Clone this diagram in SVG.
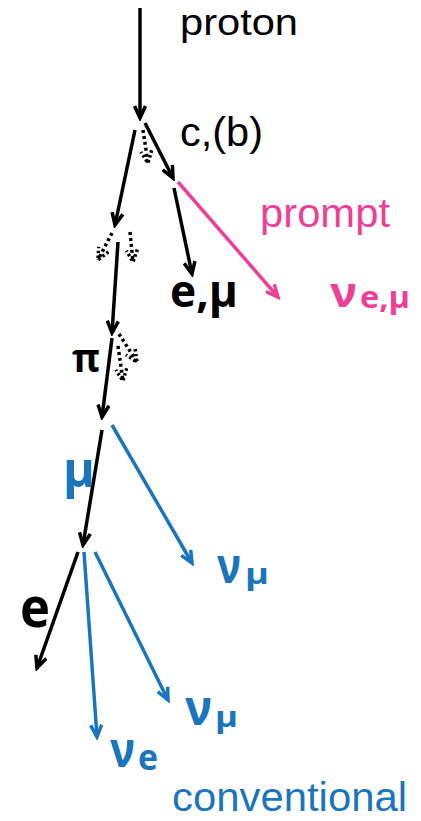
<svg xmlns="http://www.w3.org/2000/svg" width="421" height="821" viewBox="0 0 421 821">
<style>
.bg{fill:#fff}
.ln{fill:none;stroke-width:3.5;stroke-linecap:butt}
.k{stroke:#000}
.p{stroke:#ee3f97}
.b{stroke:#1b75bc}
.dot{stroke-dasharray:3 3}
.t{font-family:"Liberation Sans",Arial,sans-serif}
.g{font-family:"Open Sans","Noto Sans",sans-serif;font-weight:bold}
.tk{fill:#000}
.tp{fill:#ee3f97}
.tb{fill:#1b75bc}
</style>
<defs>
<marker id="ak" markerUnits="userSpaceOnUse" markerWidth="16" markerHeight="14" viewBox="0 0 16 14" refX="13" refY="7" orient="auto"><path d="M1,1.5 L13,7 L1,12.5" fill="none" stroke="#000" stroke-width="3.5"/></marker>
<marker id="ap" markerUnits="userSpaceOnUse" markerWidth="16" markerHeight="14" viewBox="0 0 16 14" refX="13" refY="7" orient="auto"><path d="M1,1.5 L13,7 L1,12.5" fill="none" stroke="#ee3f97" stroke-width="3.5"/></marker>
<marker id="ab" markerUnits="userSpaceOnUse" markerWidth="16" markerHeight="14" viewBox="0 0 16 14" refX="13" refY="7" orient="auto"><path d="M1,1.5 L13,7 L1,12.5" fill="none" stroke="#1b75bc" stroke-width="3.5"/></marker>
<marker id="ad" markerUnits="userSpaceOnUse" markerWidth="16" markerHeight="14" viewBox="0 0 16 14" refX="13" refY="7" orient="auto"><path d="M1,1.5 L13,7 L1,12.5" fill="none" stroke="#000" stroke-width="3.5" stroke-dasharray="2.5 2.5"/></marker>
</defs>
<rect class="bg" x="0" y="0" width="421" height="821"/>
<g id="connectors">
<line class="ln k" x1="140" y1="8" x2="140" y2="118" marker-end="url(#ak)"/>
<line class="ln k" x1="135" y1="130" x2="115" y2="225" marker-end="url(#ak)"/>
<line class="ln k" x1="145" y1="123" x2="173" y2="178" marker-end="url(#ak)"/>
<line class="ln k dot" x1="143" y1="130" x2="148" y2="163" marker-end="url(#ad)"/>
<line class="ln k" x1="174" y1="188" x2="192" y2="274" marker-end="url(#ak)"/>
<line class="ln p" x1="178" y1="182" x2="278" y2="297" marker-end="url(#ap)"/>
<line class="ln k dot" x1="112" y1="233" x2="98" y2="260" marker-end="url(#ad)"/>
<line class="ln k dot" x1="130" y1="232" x2="133" y2="262" marker-end="url(#ad)"/>
<line class="ln k" x1="118" y1="242" x2="112" y2="333" marker-end="url(#ak)"/>
<line class="ln k dot" x1="119" y1="334" x2="137" y2="362" marker-end="url(#ad)"/>
<line class="ln k dot" x1="118" y1="346" x2="123" y2="381" marker-end="url(#ad)"/>
<line class="ln k" x1="112" y1="338" x2="102" y2="417" marker-end="url(#ak)"/>
<line class="ln k" x1="102" y1="430" x2="83" y2="545" marker-end="url(#ak)"/>
<line class="ln b" x1="112" y1="425" x2="192" y2="563" marker-end="url(#ab)"/>
<line class="ln k" x1="78" y1="552" x2="37" y2="668" marker-end="url(#ak)"/>
<line class="ln b" x1="84" y1="552" x2="97" y2="737" marker-end="url(#ab)"/>
<line class="ln b" x1="95" y1="552" x2="168" y2="700" marker-end="url(#ab)"/>
</g>
<g id="proton"><text class="t tk" x="180" y="35" font-size="37" textLength="118" lengthAdjust="spacingAndGlyphs">proton</text></g>
<g id="charm"><text class="t tk" x="180" y="146" font-size="41" textLength="83" lengthAdjust="spacingAndGlyphs">c,(b)</text></g>
<g id="prompt"><text class="t tp" x="260" y="227" font-size="41" textLength="130" lengthAdjust="spacingAndGlyphs">prompt</text></g>
<g id="lepton-prompt"><text class="g tk" x="170" y="307" font-size="44" textLength="68" lengthAdjust="spacingAndGlyphs">e,μ</text></g>
<g id="nu-prompt"><text class="g tp" x="330" y="307" font-size="41" textLength="27" lengthAdjust="spacingAndGlyphs">ν</text><text class="g tp" x="360" y="308" font-size="30" textLength="50" lengthAdjust="spacingAndGlyphs">e,μ</text></g>
<g id="pion"><text class="g tk" x="72" y="372" font-size="40" textLength="28" lengthAdjust="spacingAndGlyphs">π</text></g>
<g id="muon"><text class="g tb" x="63" y="487" font-size="50" textLength="32" lengthAdjust="spacingAndGlyphs">μ</text></g>
<g id="numu-1"><text class="g tb" x="217" y="583" font-size="50" textLength="24" lengthAdjust="spacingAndGlyphs">ν</text><text class="g tb" x="245" y="584" font-size="28" textLength="24" lengthAdjust="spacingAndGlyphs">μ</text></g>
<g id="electron"><text class="g tk" x="20" y="627" font-size="56" textLength="30" lengthAdjust="spacingAndGlyphs">e</text></g>
<g id="numu-2"><text class="g tb" x="185" y="725" font-size="50" textLength="27" lengthAdjust="spacingAndGlyphs">ν</text><text class="g tb" x="215" y="727" font-size="28" textLength="23" lengthAdjust="spacingAndGlyphs">μ</text></g>
<g id="nue"><text class="g tb" x="110" y="767" font-size="50" textLength="25" lengthAdjust="spacingAndGlyphs">ν</text><text class="g tb" x="138" y="770" font-size="36" textLength="20" lengthAdjust="spacingAndGlyphs">e</text></g>
<g id="conventional"><text class="t tb" x="172" y="811" font-size="40" textLength="235" lengthAdjust="spacingAndGlyphs">conventional</text></g>
</svg>
